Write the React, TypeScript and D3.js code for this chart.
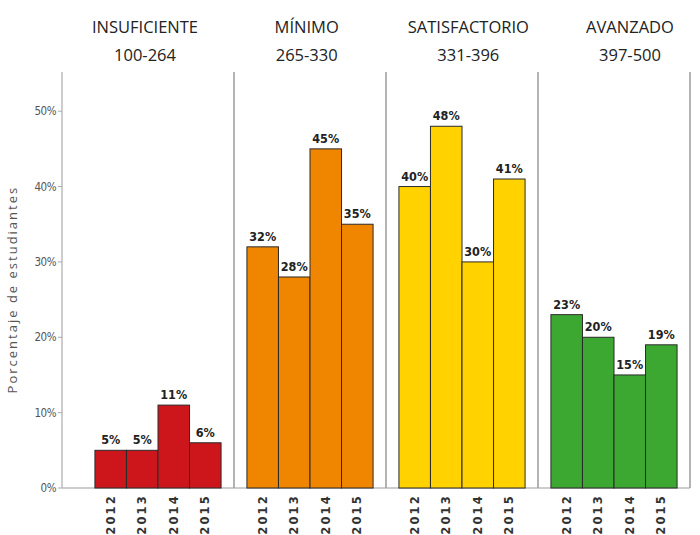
import React from 'react';
import * as d3 from 'd3';

// niveles de logro y rangos de puntaje
const levels = ['INSUFICIENTE', 'MÍNIMO', 'SATISFACTORIO', 'AVANZADO'];
const ranges = ['100-264', '265-330', '331-396', '397-500'];
const years = ['2012', '2013', '2014', '2015'];

// porcentaje de estudiantes por nivel y año
const insuficiente = [0.05, 0.05, 0.11, 0.06];
const minimo = [0.32, 0.28, 0.45, 0.35];
const satisfactorio = [0.40, 0.48, 0.30, 0.41];
const avanzado = [0.23, 0.20, 0.15, 0.19];

const yTicks = [0, 0.1, 0.2, 0.3, 0.4, 0.5];
const levelColors = ['#cd161c', '#f08600', '#ffd200', '#3ca832'];

const seriesByLevel = [insuficiente, minimo, satisfactorio, avanzado];

const App: React.FC = () => {
    const width = 700;
    const height = 535;
    const axisX = 62;
    const top = 72;
    const bottom = 488;

    // Escalas
    const panel = d3.scaleBand<string>().domain(levels).range([82, 690]).paddingInner(0).paddingOuter(0);
    const inner = d3.scaleBand<string>().domain(years).range([0, panel.bandwidth()]).paddingInner(0).paddingOuter(0.41);
    const y = d3.scaleLinear().domain([0, 0.552]).range([bottom, top]);
    const titleX = d3.scalePoint<string>().domain(levels).range([145, 630]);
    const pct = d3.format('.0%');

    return (
        <svg width={width} height={height} style={{ position: 'absolute', left: 0, top: 0, background: '#fff' }}>
            {/* títulos de panel */}
            {levels.map((lv, i) => (
                <g key={lv} fontFamily="'Open Sans', sans-serif" fontSize={16.5} fill="#222" textAnchor="middle">
                    <text x={titleX(lv)} y={33}>{lv}</text>
                    <text x={titleX(lv)} y={61}>{ranges[i]}</text>
                </g>
            ))}

            {/* línea base */}
            <line x1={axisX} x2={690} y1={bottom} y2={bottom} stroke="#bdbdbd" strokeWidth={1.5} />

            {/* eje y */}
            <line x1={axisX} x2={axisX} y1={top} y2={bottom} stroke="#bdbdbd" strokeWidth={1.5} />
            {yTicks.map(t => (
                <g key={t}>
                    <line x1={axisX - 4} x2={axisX} y1={y(t)} y2={y(t)} stroke="#aaa" />
                    <text x={axisX - 6} y={y(t)} dy="0.35em" textAnchor="end"
                        fontFamily="'DejaVu Sans Condensed', sans-serif" fontSize={11.5} fill="#555" letterSpacing={-0.5}>
                        {pct(t)}
                    </text>
                </g>
            ))}
            <text transform={`translate(17,${(y(0.1) + y(0.4)) / 2 - 10}) rotate(-90)`} textAnchor="middle"
                fontFamily="'Open Sans', sans-serif" fontSize={13} fill="#555" letterSpacing={2}>
                Porcentaje de estudiantes
            </text>

            {/* separadores de panel */}
            {levels.map(lv => (
                <line key={lv} x1={(panel(lv) as number) + panel.bandwidth()} x2={(panel(lv) as number) + panel.bandwidth()}
                    y1={top} y2={bottom} stroke="#a0a0a0" strokeWidth={1.6} />
            ))}

            {/* barras */}
            {levels.map((lv, i) => {
                const px = panel(lv) as number;
                return (
                    <g key={lv}>
                        {years.map((yr, j) => {
                            const v = seriesByLevel[i][j];
                            const bx = px + (inner(yr) as number);
                            return (
                                <g key={yr}>
                                    <rect x={bx} y={y(v)} width={inner.bandwidth()} height={bottom - y(v)}
                                        fill={levelColors[i]} stroke="#2a2a2a" strokeWidth={1} />
                                    <text x={bx + inner.bandwidth() / 2} y={y(v) - 6} textAnchor="middle"
                                        fontFamily="'DejaVu Sans Condensed', sans-serif" fontWeight="bold" fontSize={12.5} fill="#222">
                                        {pct(v)}
                                    </text>
                                    <text transform={`translate(${bx + inner.bandwidth() / 2},${bottom + 6}) rotate(-90)`}
                                        textAnchor="end" dy="0.35em"
                                        fontFamily="'DejaVu Sans', sans-serif" fontWeight="bold" fontSize={11.5} fill="#333" letterSpacing={2.2}>
                                        {yr}
                                    </text>
                                </g>
                            );
                        })}
                    </g>
                );
            })}
        </svg>
    );
};

export default App;
